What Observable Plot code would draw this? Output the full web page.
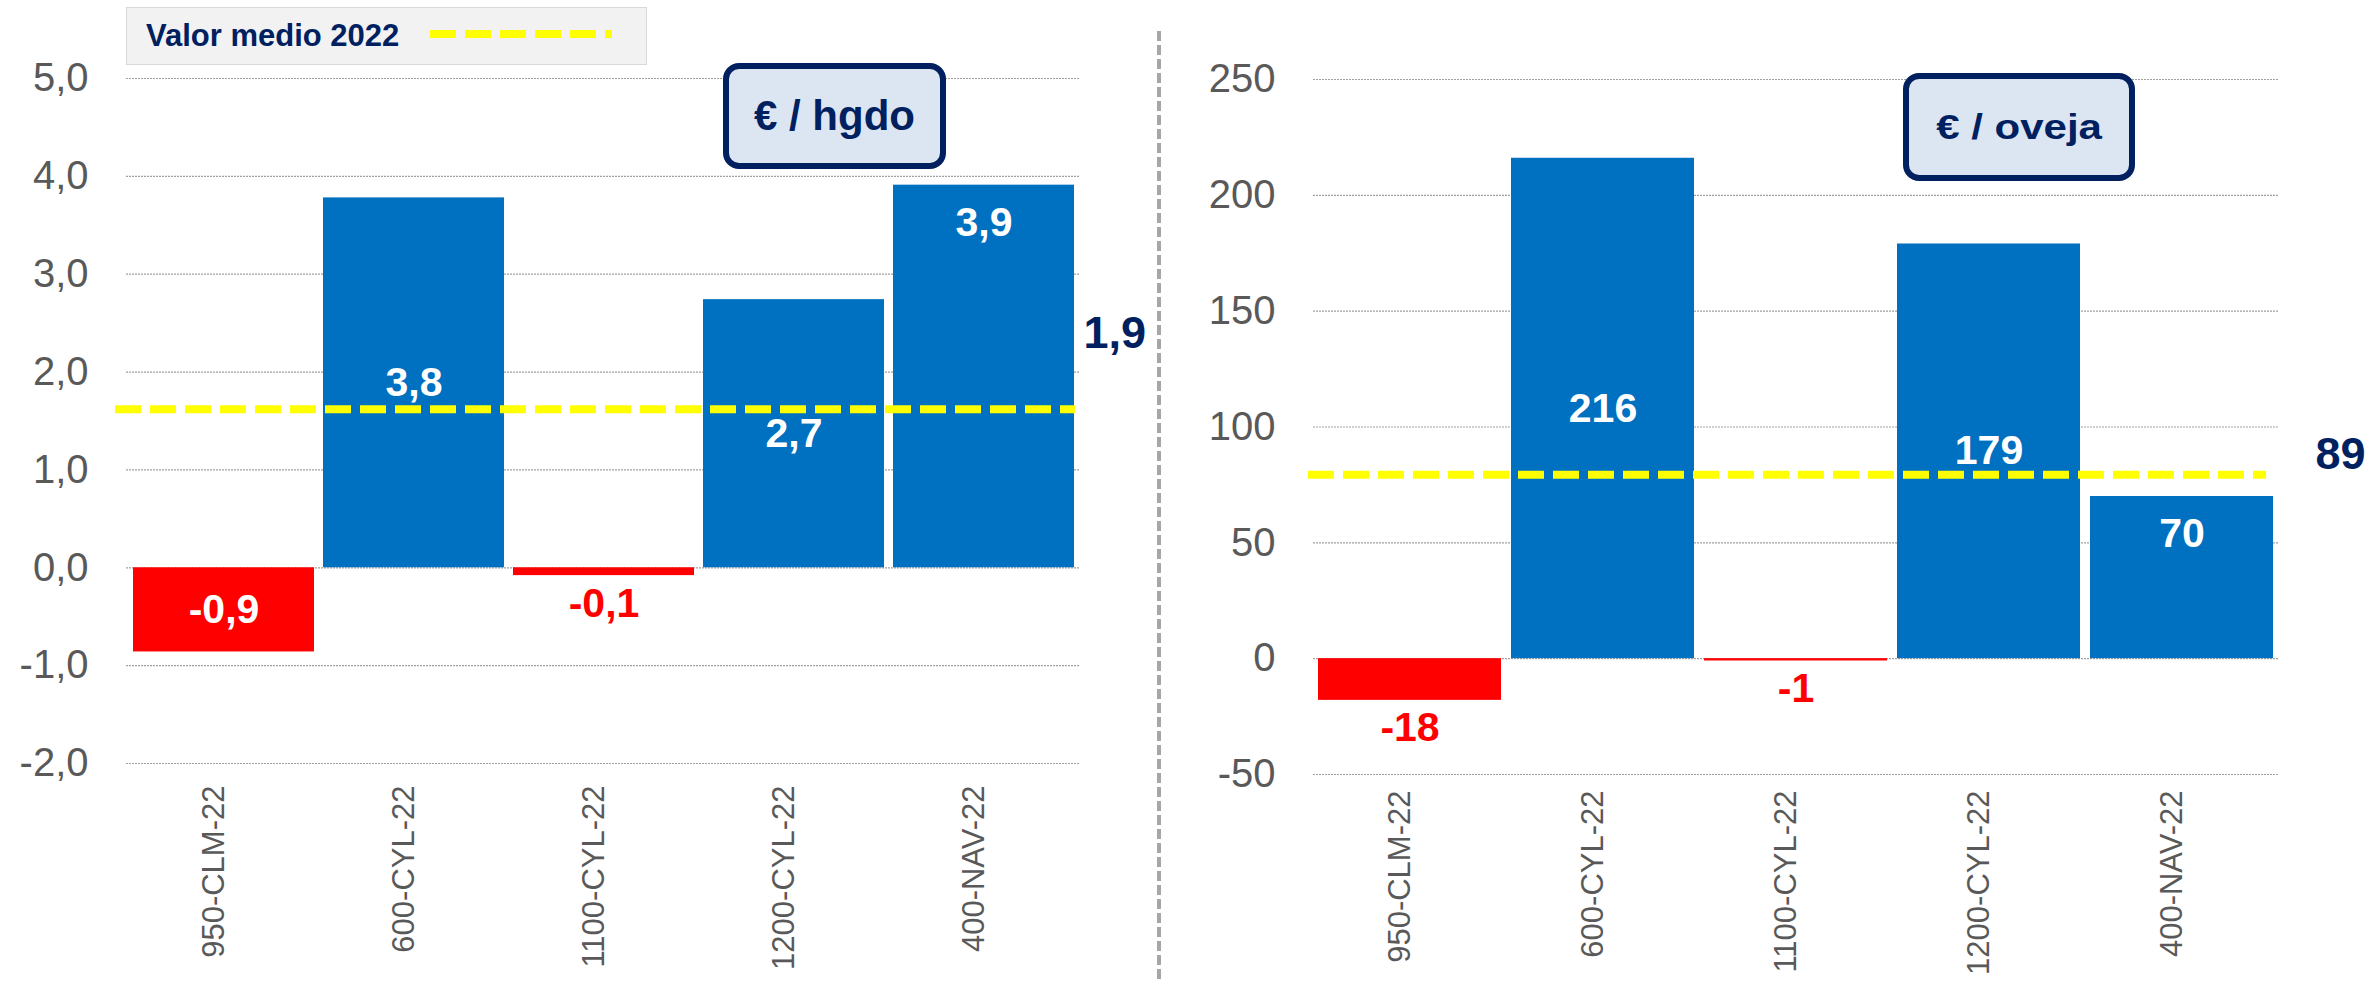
<!DOCTYPE html>
<html>
<head>
<meta charset="utf-8">
<script src="https://cdn.jsdelivr.net/npm/d3@7"></script>
<script src="https://cdn.jsdelivr.net/npm/@observablehq/plot@0.6"></script>
<style>
  html, body { margin: 0; padding: 0; background: #ffffff; }
  body { width: 2369px; height: 981px; position: relative; overflow: hidden; font-family: "Liberation Sans", Arial, sans-serif; }
  .abs { position: absolute; }
  #legend { left: 126px; top: 7px; width: 521px; height: 58px; box-sizing: border-box; background: #f2f2f2; border: 1.5px solid #d9d9d9; }
  #legend .txt { position: absolute; left: 19px; top: 10px; font-weight: bold; font-size: 31px; color: #002060; line-height: 36px; white-space: nowrap; }
  #legend svg { position: absolute; left: 0; top: 0; }
  .unitbox { box-sizing: border-box; background: #dce6f2; border: 6px solid #002060; border-radius: 16px; display: flex; align-items: center; justify-content: center; font-weight: bold; color: #002060; white-space: nowrap; }
  #box1 { left: 723px; top: 63px; width: 223px; height: 106px; font-size: 42px; }
  #box2 { left: 1903px; top: 73px; width: 232px; height: 108px; font-size: 35px; }
  #box2 span { display: inline-block; transform: scaleX(1.2); }
</style>
</head>
<body>
<div id="left" class="abs" style="left:0;top:0;"></div>
<div id="right" class="abs" style="left:1157px;top:0;"></div>
<svg id="divider" class="abs" style="left:0;top:0;" width="2369" height="981"></svg>
<div id="legend" class="abs"><span class="txt" id="legendText"></span><svg width="521" height="58"></svg></div>
<div id="box1" class="abs unitbox"></div>
<div id="box2" class="abs unitbox"><span></span></div>
<script>
// ---------- data ----------
const categories = ["950-CLM-22", "600-CYL-22", "1100-CYL-22", "1200-CYL-22", "400-NAV-22"];

const hgdoValues = [-0.86, 3.78, -0.08, 2.74, 3.91];
const hgdoLabels = ["-0,9", "3,8", "-0,1", "2,7", "3,9"];
const hgdoLabelPlace = ["center", "center", "below", "center", "top"];
const hgdoMeanLine = 1.62;
const hgdoMeanLabel = "1,9";
const hgdoTicks = [-2, -1, 0, 1, 2, 3, 4, 5];

const ovejaValues = [-18, 216, -1, 179, 70];
const ovejaLabels = ["-18", "216", "-1", "179", "70"];
const ovejaLabelPlace = ["below", "center", "below", "center", "top"];
const ovejaMeanLine = 79.4;
const ovejaMeanLabel = "89";
const ovejaTicks = [-50, 0, 50, 100, 150, 200, 250];

const legendLabel = "Valor medio 2022";
const unitLabels = ["€ / hgdo", "€ / oveja"];

// ---------- styles ----------
const BLUE = "#0070c0", RED = "#ff0000", YELLOW = "#ffff00", NAVY = "#002060", GRAY = "#595959";
const FONT = "'Liberation Sans', Arial, sans-serif";

function makeData(values, labels, places) {
  return categories.map((cat, i) => ({cat, value: values[i], label: labels[i], place: places[i]}));
}

function chart({data, ticks, tickFormat, mean, meanLabel, width, mL, mR, mT, mB, meanInsetL, meanInsetR, meanDx, meanDy, catDy}) {
  return Plot.plot({
    width, height: 981,
    marginLeft: mL, marginRight: mR, marginTop: mT, marginBottom: mB,
    x: {domain: categories, paddingInner: 0.05, paddingOuter: 0.025, axis: null},
    y: {domain: [ticks[0], ticks[ticks.length - 1]], axis: null},
    color: {type: "identity"},
    style: {fontFamily: FONT, fontSize: "40px", color: GRAY, background: "transparent", overflow: "visible"},
    marks: [
      Plot.gridY(ticks, {stroke: "#a0a0a0", strokeOpacity: 1, strokeWidth: 1.2, strokeDasharray: "2,1"}),
      Plot.axisY(ticks, {tickSize: 0, tickPadding: 38, tickFormat, fontSize: 40, fill: GRAY, label: null}),
      Plot.barY(data, {x: "cat", y: "value", fill: d => d.value < 0 ? RED : BLUE}),
      Plot.ruleY([mean], {stroke: YELLOW, strokeWidth: 8, strokeDasharray: "26,9", insetLeft: meanInsetL, insetRight: meanInsetR}),
      Plot.text(data.filter(d => d.place === "center"), {x: "cat", y: d => d.value / 2, text: "label", fill: "#ffffff", fontWeight: "bold", fontSize: 41}),
      Plot.text(data.filter(d => d.place === "top"), {x: "cat", y: "value", dy: 37.5, text: "label", fill: "#ffffff", fontWeight: "bold", fontSize: 41}),
      Plot.text(data.filter(d => d.place === "below"), {x: "cat", y: "value", dy: 28, text: "label", fill: RED, fontWeight: "bold", fontSize: 41}),
      Plot.text(categories, {x: d => d, frameAnchor: "bottom", rotate: -90, textAnchor: "end", dy: catDy, fontSize: 31, fill: GRAY}),
      Plot.text([meanLabel], {frameAnchor: "right", textAnchor: "start", dx: meanDx, dy: meanDy, text: d => d, fill: NAVY, fontWeight: "bold", fontSize: 45})
    ]
  });
}

const left = chart({
  data: makeData(hgdoValues, hgdoLabels, hgdoLabelPlace),
  ticks: hgdoTicks,
  tickFormat: d => d.toFixed(1).replace(".", ","),
  mean: hgdoMeanLine, meanLabel: hgdoMeanLabel,
  width: 1157, mL: 126, mR: 77, mT: 78, mB: 218,
  meanInsetL: -11, meanInsetR: 5, meanDx: 3, meanDy: -87, catDy: 22
});
document.getElementById("left").appendChild(left);

const right = chart({
  data: makeData(ovejaValues, ovejaLabels, ovejaLabelPlace),
  ticks: ovejaTicks,
  tickFormat: d => String(d),
  mean: ovejaMeanLine, meanLabel: ovejaMeanLabel,
  width: 1212, mL: 156, mR: 90, mT: 79, mB: 207,
  meanInsetL: -5, meanInsetR: 13, meanDx: 36, meanDy: 28, catDy: 16
});
document.getElementById("right").appendChild(right);

// divider
d3.select("#divider").append("line")
  .attr("x1", 1159).attr("x2", 1159).attr("y1", 31).attr("y2", 981)
  .attr("stroke", "#a6a6a6").attr("stroke-width", 4).attr("stroke-dasharray", "10,4");

// legend
document.getElementById("legendText").textContent = legendLabel;
d3.select("#legend svg").append("line")
  .attr("x1", 303).attr("x2", 485).attr("y1", 26).attr("y2", 26)
  .attr("stroke", YELLOW).attr("stroke-width", 8).attr("stroke-dasharray", "26,9");

// unit boxes
document.getElementById("box1").textContent = unitLabels[0];
document.querySelector("#box2 span").textContent = unitLabels[1];
</script>
</body>
</html>
